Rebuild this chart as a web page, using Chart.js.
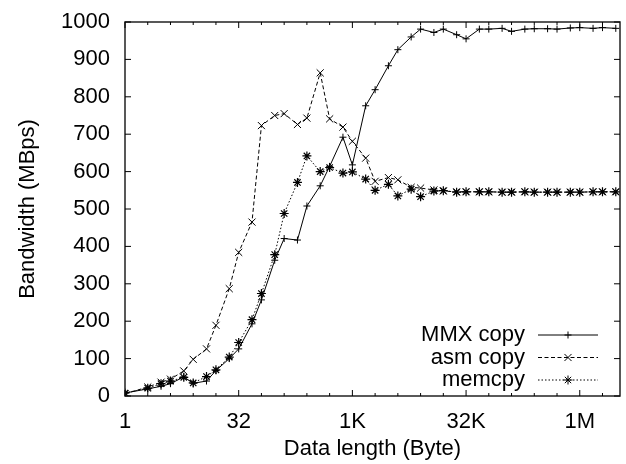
<!DOCTYPE html>
<html>
<head>
<meta charset="utf-8">
<script src="https://cdn.jsdelivr.net/npm/chart.js@4.4.1/dist/chart.umd.min.js"></script>
<style>
  html, body { margin: 0; padding: 0; background: #fff; }
</style>
</head>
<body>
<canvas id="bwChart" width="626" height="464"></canvas>
<script>
// data length in bytes (x) and bandwidth in MBps for each copy routine
var data_lengths = [1, 2, 3, 4, 6, 8, 12, 16, 24, 32, 48, 64, 96, 128, 192, 256, 384, 512, 768,
  1024, 1536, 2048, 3072, 4096, 6144, 8192, 12288, 16384, 24576, 32768, 49152, 65536, 98304,
  131072, 196608, 262144, 393216, 524288, 786432, 1048576, 1572864, 2097152, 3145728];

var mmx_copy = [8, 19, 26, 33, 51, 34, 40, 68, 100, 126, 193, 257, 363, 421, 417, 508, 562, 614, 692,
  618, 776, 819, 883, 926, 960, 981, 972, 981, 966, 955, 981, 981, 983,
  975, 981, 982, 982, 981, 984, 985, 983, 985, 983];

var asm_copy = [6, 24, 37, 45, 67, 98, 126, 189, 287, 384, 465, 723, 750, 755, 726, 743, 864, 741, 719,
  681, 636, 574, 584, 578, 558, 556, 551, 548, 546, 546, 546, 546, 545,
  545, 546, 545, 545, 545, 545, 545, 546, 546, 546];

var memcpy_bw = [8, 21, 33, 40, 50, 35, 52, 70, 104, 143, 204, 274, 378, 488, 571, 642, 600, 611, 596,
  599, 580, 550, 566, 535, 553, 533, 548, 549, 545, 546, 546, 546, 545,
  545, 546, 545, 545, 545, 545, 545, 546, 546, 546];

var x_ticks = [1, 2, 4, 8, 16, 32, 64, 128, 256, 512, 1024, 2048, 4096, 8192, 16384, 32768,
  65536, 131072, 262144, 524288, 1048576, 2097152];
var x_major = [1, 32, 1024, 32768, 1048576];
var x_major_labels = ['1', '32', '1K', '32K', '1M'];
var y_ticks = [0, 100, 200, 300, 400, 500, 600, 700, 800, 900, 1000];

Chart.defaults.font.family = '"Liberation Sans", Arial, Helvetica, sans-serif';
Chart.defaults.color = '#000';

function make_points(values) {
  var pts = [];
  for (let i = 0; i < data_lengths.length; i++) {
    pts.push({x: data_lengths[i], y: values[i]});
  }
  return pts;
}

// gnuplot style marker, drawn by hand for the key
function draw_marker(ctx, style, r, x, y) {
  ctx.beginPath();
  if (style == 'cross' || style == 'star') {
    ctx.moveTo(x - r, y); ctx.lineTo(x + r, y);
    ctx.moveTo(x, y - r); ctx.lineTo(x, y + r);
  }
  if (style == 'crossRot' || style == 'star') {
    var d = r * 0.7071;
    ctx.moveTo(x - d, y - d); ctx.lineTo(x + d, y + d);
    ctx.moveTo(x - d, y + d); ctx.lineTo(x + d, y - d);
  }
  ctx.stroke();
}

const frame_plugin = {
  id: 'frame',
  afterDraw(chart) {
    const ctx = chart.ctx;
    const a = chart.chartArea;
    const xs = chart.scales.x;
    const ys = chart.scales.y;
    ctx.save();
    ctx.strokeStyle = '#222';
    ctx.lineWidth = 1.5;
    ctx.strokeRect(a.left, a.top, a.right - a.left, a.bottom - a.top);
    ctx.lineWidth = 1;
    ctx.strokeStyle = '#000';
    ctx.beginPath();
    x_ticks.forEach(function(v) {
      var px = xs.getPixelForValue(v);
      var len = x_major.indexOf(v) >= 0 ? 6 : 3;
      ctx.moveTo(px, a.bottom); ctx.lineTo(px, a.bottom - len);
      ctx.moveTo(px, a.top); ctx.lineTo(px, a.top + len);
    });
    y_ticks.forEach(function(v) {
      var py = ys.getPixelForValue(v);
      ctx.moveTo(a.left, py); ctx.lineTo(a.left + 6, py);
      ctx.moveTo(a.right, py); ctx.lineTo(a.right - 6, py);
    });
    ctx.stroke();

    // key, bottom right inside the plot
    ctx.font = '22px "Liberation Sans", Arial, sans-serif';
    ctx.textAlign = 'right';
    ctx.textBaseline = 'middle';
    var offsets = [61, 38.5, 16];
    chart.data.datasets.forEach(function(ds, i) {
      var y = a.bottom - offsets[i];
      ctx.fillStyle = '#000';
      ctx.fillText(ds.label, a.right - 95, y);
      ctx.strokeStyle = '#000';
      ctx.lineWidth = 1;
      ctx.setLineDash(ds.borderDash || []);
      ctx.beginPath();
      ctx.moveTo(a.right - 82, y); ctx.lineTo(a.right - 22, y);
      ctx.stroke();
      ctx.setLineDash([]);
      draw_marker(ctx, ds.pointStyle, ds.pointRadius, a.right - 52, y);
    });
    ctx.restore();
  }
};

const config = {
  type: 'line',
  data: {
    datasets: [{
      label: 'MMX copy',
      data: make_points(mmx_copy),
      borderColor: '#000',
      backgroundColor: '#000',
      borderWidth: 1,
      pointStyle: 'cross',
      pointRadius: 3.5,
      pointBorderWidth: 1,
      borderDash: [],
      tension: 0
    }, {
      label: 'asm copy',
      data: make_points(asm_copy),
      borderColor: '#000',
      backgroundColor: '#000',
      borderWidth: 1,
      pointStyle: 'crossRot',
      pointRadius: 5,
      pointBorderWidth: 1,
      borderDash: [4, 2.5],
      tension: 0
    }, {
      label: 'memcpy',
      data: make_points(memcpy_bw),
      borderColor: '#000',
      backgroundColor: '#000',
      borderWidth: 1,
      pointStyle: 'star',
      pointRadius: 4.5,
      pointBorderWidth: 1.2,
      borderDash: [1.5, 2],
      tension: 0
    }]
  },
  options: {
    responsive: false,
    animation: false,
    devicePixelRatio: 1,
    layout: { padding: { left: 0, right: 1, top: 22, bottom: 0 } },
    plugins: { legend: { display: false }, tooltip: { enabled: false } },
    scales: {
      x: {
        type: 'logarithmic',
        min: 1,
        max: Math.pow(2, 21.77),
        afterBuildTicks: function(s) {
          s.ticks = x_ticks.map(function(v) { return {value: v, major: x_major.indexOf(v) >= 0}; });
        },
        ticks: {
          autoSkip: false,
          maxRotation: 0,
          padding: 12.8,
          font: { size: 22 },
          color: '#000',
          callback: function(v) {
            var k = x_major.indexOf(v);
            return k >= 0 ? x_major_labels[k] : '';
          }
        },
        grid: { display: false, drawTicks: false },
        border: { display: false },
        title: { display: true, text: 'Data length (Byte)', font: { size: 22 }, color: '#000', padding: { top: 0, bottom: 1.8 } },
        afterFit: function(s) { s.height = 68; s.paddingLeft = 0; s.paddingRight = 0; }
      },
      y: {
        min: 0,
        max: 1000,
        ticks: {
          stepSize: 100, padding: 15, font: { size: 22 }, color: '#000',
          callback: function(v) { return String(v); }
        },
        grid: { display: false, drawTicks: false },
        border: { display: false },
        title: { display: true, text: 'Bandwidth (MBps)', font: { size: 22 }, color: '#000', padding: { top: 14.8, bottom: 0 } },
        afterFit: function(s) { s.width = 125; s.paddingTop = 0; s.paddingBottom = 0; }
      }
    }
  },
  plugins: [frame_plugin]
};

const bwChart = new Chart(document.getElementById('bwChart'), config);
</script>
</body>
</html>
